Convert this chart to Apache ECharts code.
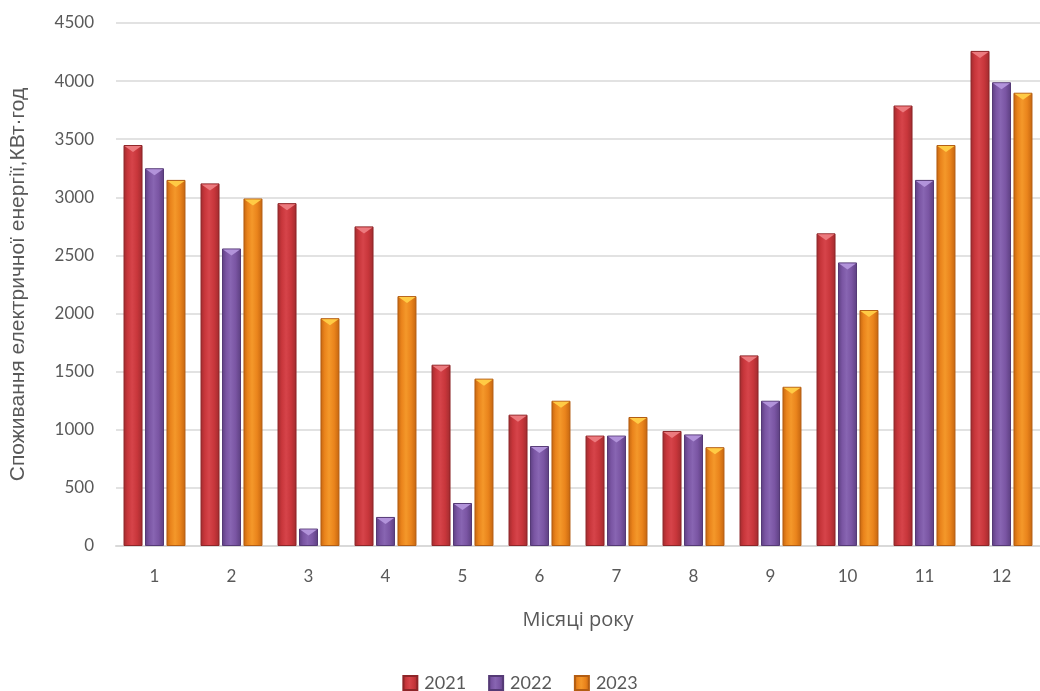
<!DOCTYPE html>
<html><head><meta charset="utf-8">
<script src="https://cdn.jsdelivr.net/npm/echarts@6/dist/echarts.min.js"></script>
<style>html,body{margin:0;padding:0;background:#fff}#c{width:1040px;height:691px}</style>
</head><body><div id="c"></div>
<script>
const months = ['1','2','3','4','5','6','7','8','9','10','11','12'];
const y2021 = [3450,3120,2950,2750,1560,1130,950,990,1640,2690,3790,4260];
const y2022 = [3250,2560,150,250,370,860,950,960,1250,2440,3150,3990];
const y2023 = [3150,2990,1960,2150,1440,1250,1110,850,1370,2030,3450,3900];
const yTicks = {min:0,max:4500,interval:500};
const seriesNames = ['2021','2022','2023'];
const seriesData = [y2021,y2022,y2023];

function grad(dark, mid, light){
  return new echarts.graphic.LinearGradient(0,0,1,0,[
    {offset:0,color:dark},{offset:0.22,color:mid},{offset:0.45,color:light},
    {offset:0.72,color:mid},{offset:1,color:dark}]);
}
const styles = [
  {c:grad('#A02B2E','#C8363B','#D6444A'), b:'#8E2528', cap:'#EC7A7E'},
  {c:grad('#5C3F80','#7A55A3','#8865B2'), b:'#553A76', cap:'#B293DA'},
  {c:grad('#C4650F','#EA841C','#F4982A'), b:'#B35D12', cap:'#FFCB45'}
];
const font = 'Lato, Liberation Sans, sans-serif';
const BW = 19, GAP = 2.5;
const chart = echarts.init(document.getElementById('c'));
const bars = seriesData.map((d,i) => ({
  name:seriesNames[i], type:'bar', data:d, barWidth:BW, barGap:'13%',
  itemStyle:{color:styles[i].c, borderColor:styles[i].b, borderWidth:1},
  emphasis:{disabled:true}
}));
const caps = seriesData.map((d,i) => ({
  name:'cap'+i, type:'custom', silent:true, z:5,
  data:d.map((v,k)=>[k,v]),
  renderItem:function(params, api){
    const p = api.coord([api.value(0), api.value(1)]);
    const cx = p[0] + (i-1)*(BW+GAP);
    const h = 7;
    return {type:'polygon', shape:{points:[[cx-BW/2+1,p[1]+1],[cx+BW/2-1,p[1]+1],[cx,p[1]+h]]},
      style:{fill:styles[i].cap, stroke:null}};
  }
}));
chart.setOption({
  animation:false,
  textStyle:{fontFamily:font},
  grid:{left:112, right:-12, top:23, bottom:145},
  legend:{bottom:-6, left:'center', itemWidth:14, itemHeight:14, itemGap:22,
    icon:'rect',
    textStyle:{fontSize:18, color:'#595959', fontFamily:font, padding:[0,0,0,2]},
    data:seriesNames},
  xAxis:{type:'category', data:months,
    name:'Місяці року', nameLocation:'middle', nameGap:64,
    nameTextStyle:{fontSize:20, color:'#595959', fontFamily:'Open Sans, sans-serif'},
    axisLine:{lineStyle:{color:'#D9D9D9', width:2}}, axisTick:{show:false},
    axisLabel:{fontSize:17, color:'#595959', margin:22}},
  yAxis:{type:'value', min:yTicks.min, max:yTicks.max, interval:yTicks.interval,
    name:'Споживання електричної енергії,КВт·год', nameLocation:'middle', nameGap:87,
    nameTextStyle:{fontSize:21, color:'#595959', fontFamily:'Liberation Sans, Arial, sans-serif'},
    axisLine:{show:false}, axisTick:{show:false},
    axisLabel:{fontSize:17, color:'#595959', margin:22, formatter:v=>String(v)},
    splitLine:{lineStyle:{color:'#D9D9D9', width:1.5}}},
  series:bars.concat(caps)
});
</script></body></html>
